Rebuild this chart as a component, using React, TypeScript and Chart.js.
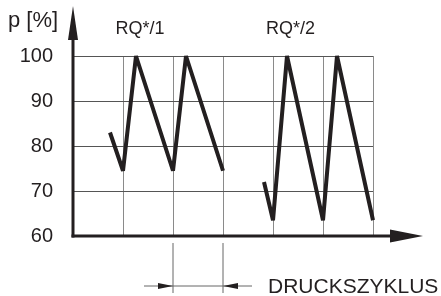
import React, { useEffect, useRef } from "react";
import { Chart, registerables } from "chart.js";

Chart.register(...registerables);

const yTicks = [60, 70, 80, 90, 100];
const cycleGrid = [1, 2, 3, 4, 5, 6];
const series1X = [0.74, 1, 1.26, 2, 2.26, 3];
const series1Y = [83, 74.5, 100, 74.5, 100, 74.5];
const series2X = [3.82, 4, 4.28, 5, 5.28, 6];
const series2Y = [72, 63.5, 100, 63.5, 100, 63.5];
const yTitle = "p [%]";
const label1 = "RQ*/1";
const label2 = "RQ*/2";
const xTitle = "DRUCKSZYKLUS";

const FONT = "'Liberation Sans', Arial, sans-serif";

const decorPlugin = {
  id: "decor",
  afterDraw(chart: any) {
    const ctx = chart.ctx;
    const xs = chart.scales.x;
    const ys = chart.scales.y;
    const x0 = xs.getPixelForValue(0);
    const y0 = ys.getPixelForValue(60);
    ctx.save();
    ctx.fillStyle = "#231f20";
    ctx.strokeStyle = "#231f20";
    // y axis
    ctx.lineWidth = 3;
    ctx.beginPath();
    ctx.moveTo(x0, y0 + 1.5);
    ctx.lineTo(x0, 30);
    ctx.stroke();
    ctx.beginPath();
    ctx.moveTo(x0, 6);
    ctx.lineTo(x0 + 5, 40);
    ctx.lineTo(x0 - 5, 40);
    ctx.closePath();
    ctx.fill();
    // x axis
    ctx.beginPath();
    ctx.moveTo(x0 - 1.5, y0);
    ctx.lineTo(400, y0);
    ctx.stroke();
    ctx.beginPath();
    ctx.moveTo(423, y0);
    ctx.lineTo(390, y0 - 6.5);
    ctx.lineTo(390, y0 + 6.5);
    ctx.closePath();
    ctx.fill();
    // dimension marker
    const a = xs.getPixelForValue(2);
    const b = xs.getPixelForValue(3);
    ctx.lineWidth = 1;
    ctx.strokeStyle = "#666";
    ctx.beginPath();
    ctx.moveTo(a, 243);
    ctx.lineTo(a, 293);
    ctx.moveTo(b, 243);
    ctx.lineTo(b, 293);
    ctx.moveTo(a - 29, 286);
    ctx.lineTo(b + 29, 286);
    ctx.stroke();
    ctx.fillStyle = "#231f20";
    ctx.beginPath();
    ctx.moveTo(a, 286);
    ctx.lineTo(a - 15, 283);
    ctx.lineTo(a - 15, 289);
    ctx.closePath();
    ctx.fill();
    ctx.beginPath();
    ctx.moveTo(b, 286);
    ctx.lineTo(b + 15, 283);
    ctx.lineTo(b + 15, 289);
    ctx.closePath();
    ctx.fill();
    // texts
    ctx.fillStyle = "#231f20";
    ctx.textBaseline = "middle";
    ctx.textAlign = "left";
    ctx.font = `22px ${FONT}`;
    ctx.fillText(yTitle, 8, 21);
    ctx.textAlign = "center";
    ctx.font = `18px ${FONT}`;
    ctx.fillText(label1, xs.getPixelForValue(1.34), 29);
    ctx.fillText(label2, xs.getPixelForValue(4.35), 29);
    ctx.textAlign = "left";
    ctx.font = `21px ${FONT}`;
    ctx.fillText(xTitle, 268, 287);
    ctx.restore();
  },
};

export default function App() {
  const ref = useRef<HTMLCanvasElement>(null);
  useEffect(() => {
    const toPts = (xs: number[], ys: number[]) => xs.map((x, i) => ({ x, y: ys[i] }));
    const chart = new Chart(ref.current!, {
      type: "line",
      data: {
        datasets: [
          { data: toPts(series1X, series1Y) },
          { data: toPts(series2X, series2Y) },
        ].map((d) => ({
          ...d,
          borderColor: "#231f20",
          borderWidth: 4,
          pointRadius: 0,
          tension: 0,
          borderJoinStyle: "bevel" as const,
          clip: false as any,
        })),
      },
      options: {
        responsive: false,
        animation: false,
        layout: { padding: { top: 56, right: 68, left: 0, bottom: 0 } },
        plugins: { legend: { display: false }, tooltip: { enabled: false } },
        scales: {
          x: {
            type: "linear",
            min: 0,
            max: 6,
            afterBuildTicks: (s: any) => {
              s.ticks = [0, ...cycleGrid].map((v) => ({ value: v }));
            },
            afterFit: (s: any) => {
              s.height = 60;
            },
            ticks: { display: false },
            border: { display: false },
            grid: {
              drawTicks: false,
              color: (c: any) => (c.tick && c.tick.value === 0 ? "rgba(0,0,0,0)" : "#8a8a8a"),
              lineWidth: 1,
            },
          },
          y: {
            min: 60,
            max: 100,
            afterBuildTicks: (s: any) => {
              s.ticks = yTicks.map((v) => ({ value: v }));
            },
            afterFit: (s: any) => {
              s.width = 73;
            },
            ticks: {
              color: "#231f20",
              font: { family: FONT, size: 20 },
              padding: 20,
            },
            border: { display: false },
            grid: {
              drawTicks: false,
              color: (c: any) => (c.tick && c.tick.value === 60 ? "rgba(0,0,0,0)" : "#555"),
              lineWidth: 1,
            },
          },
        },
      },
      plugins: [decorPlugin],
    });
    return () => chart.destroy();
  }, []);
  return (
    <div style={{ position: "fixed", left: 0, top: 0, width: 441, height: 296, background: "#fff" }}>
      <canvas ref={ref} width={441} height={296} style={{ display: "block" }} />
    </div>
  );
}
